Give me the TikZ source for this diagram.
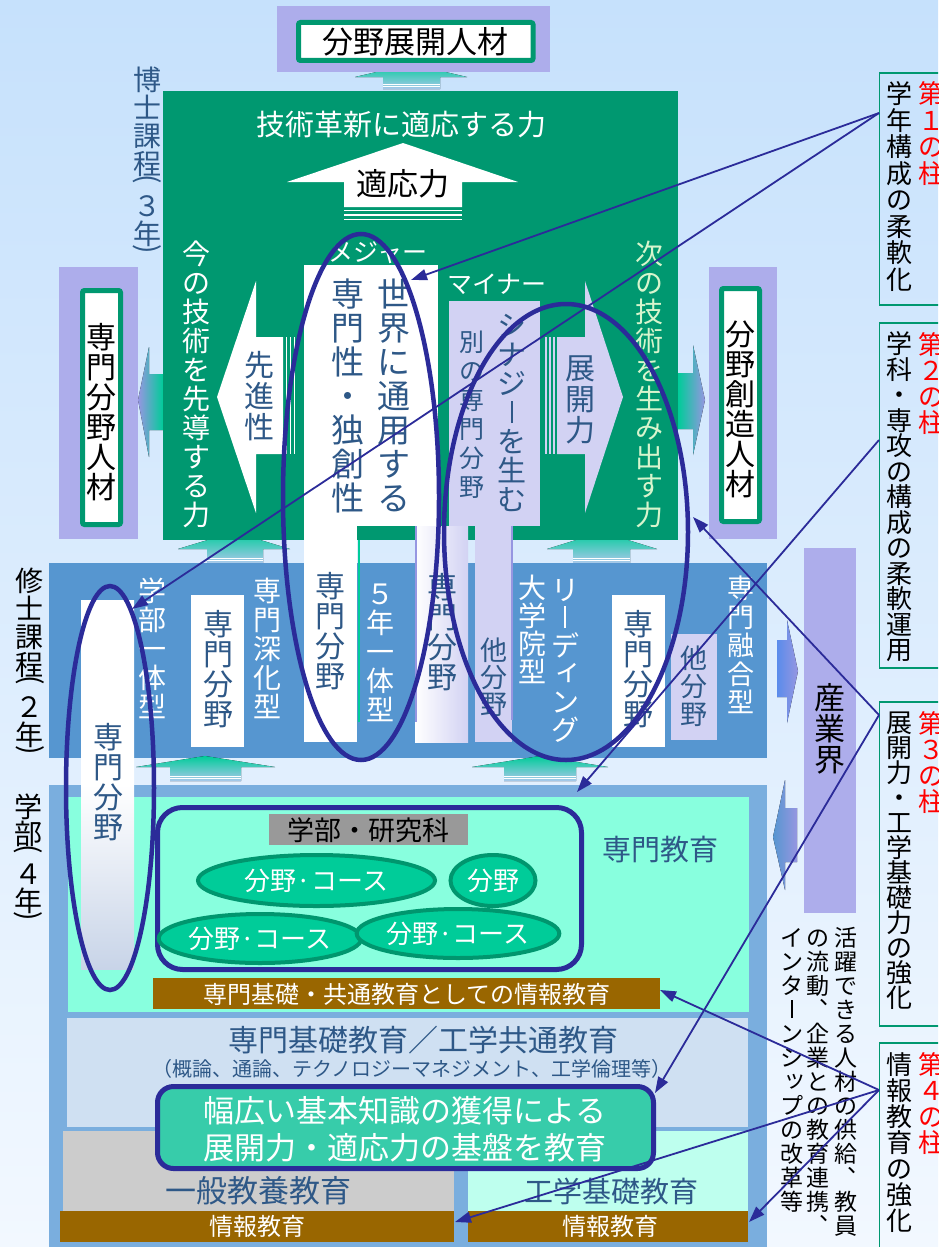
\documentclass[tikz,border=0pt]{standalone}
\usepackage{fontspec}
\setmainfont{Noto Sans CJK JP}
\usetikzlibrary{arrows.meta,shapes.geometric}

\definecolor{bgtop}{RGB}{198,225,252}
\definecolor{bgbot}{RGB}{242,248,255}
\definecolor{grn}{RGB}{0,152,112}
\definecolor{lav}{RGB}{173,173,235}
\definecolor{lavL}{RGB}{210,210,243}
\definecolor{lavD}{RGB}{150,150,225}
\definecolor{tealA}{RGB}{0,204,153}
\definecolor{tealB}{RGB}{170,200,235}
\definecolor{band}{RGB}{86,150,208}
\definecolor{frame}{RGB}{122,174,222}
\definecolor{aqua}{RGB}{136,255,222}
\definecolor{lbox}{RGB}{207,224,242}
\definecolor{gry}{RGB}{204,204,204}
\definecolor{gry2}{RGB}{153,153,153}
\definecolor{laqua}{RGB}{190,255,238}
\definecolor{brn}{RGB}{153,102,0}
\definecolor{teal2}{RGB}{55,204,170}
\definecolor{ellF}{RGB}{0,204,153}
\definecolor{ellB}{RGB}{0,150,110}
\definecolor{navy}{RGB}{43,43,153}
\definecolor{tblue}{RGB}{46,88,135}
\definecolor{pgrn}{RGB}{215,245,205}
\definecolor{ared}{RGB}{255,0,0}
\definecolor{gblue}{RGB}{90,140,235}
\definecolor{colbot}{RGB}{200,212,232}

\newcommand\fs[1]{\fontsize{#1}{#1}\selectfont}
% vertical text machinery
\newdimen\vtp
\newbox\vtbox
\def\vtstop{}
\def\vtstopm{\vtstop}
\def\vtfac{1}
\def\vtloop#1{\def\vtarg{#1}\ifx\vtarg\vtstopm\else\vtcell{#1}\expandafter\vtloop\fi}
\newcommand\vtcell[1]{\gdef\vtfac{1}\setbox\vtbox\hbox{#1}\ht\vtbox=0pt\dp\vtbox=0pt\hbox to 1em{\hss\vrule width0pt height\vtfac\vtp depth0pt\box\vtbox\hss}}
\newcommand\vtext[2]{\vbox{\vtp=#1pt\relax\offinterlineskip\vtloop#2\vtstop}}
\newcommand\VPL{\gdef\vtfac{0.5}\rotatebox[origin=c]{-90}{(}}
\newcommand\VPR{\gdef\vtfac{0.5}\rotatebox[origin=c]{-90}{)}}
\newcommand\VL{\rule[0em]{0.065em}{0.78em}}
\newcommand\VS[1]{\makebox[1em][l]{\kern0.12em\raisebox{0.12em}{\makebox[0.85em][l]{#1}}}}
\newcommand\VC{\makebox[1em][l]{\kern0.55em\raisebox{0.58em}{\makebox[0.4em][l]{、}}}}

\begin{document}
\begin{tikzpicture}[x=1pt,y=-1pt,
  vt/.style={inner sep=0pt,anchor=north},
  ht/.style={inner sep=0pt},
  conn/.style={draw=navy,line width=1.8pt,-{Triangle[length=16pt,width=11pt]}},
  ring/.style={draw=navy,line width=4.5pt},
  ell/.style={ellipse,draw=ellB,line width=4pt,fill=ellF,inner sep=0pt,text=white,font=\fs{26}},
  pillar/.style={draw=grn,line width=1.5pt},
  upar/.style={top color=tealA,bottom color=tealB}]
\useasboundingbox (0,0) rectangle (938,1247);
\clip (0,0) rectangle (938,1247);
\fill[top color=bgtop,bottom color=bgbot] (0,0) rectangle (938,1247);

% ---- up arrows (drawn first, partly hidden)
\fill[upar] (355,77) -- (411,64) -- (467,77) -- (440,77) -- (440,89) -- (383,89) -- (383,77) -- cycle;
\fill[upar] (178,549) -- (234,532) -- (290,549) -- (263,549) -- (263,563) -- (207,563) -- (207,549) -- cycle;
\fill[upar] (547,549) -- (602,532) -- (657,549) -- (630,549) -- (630,563) -- (573,563) -- (573,549) -- cycle;
\foreach \a/\b/\y in {383/440/84,383/440/86.5,207/263/558,207/263/560.5,573/630/558,573/630/560.5}
  \draw[white,line width=0.8pt] (\a,\y) -- (\b,\y);

% side arrows
\fill[left color=lavD,right color=tealA] (138,400) -- (149,347) -- (149,374) -- (163,374) -- (163,430) -- (149,430) -- (149,457) -- cycle;
\fill[left color=tealA,right color=lavD] (678,373) -- (693,373) -- (693,345) -- (705,400) -- (693,455) -- (693,429) -- (678,429) -- cycle;
\fill[left color=gblue,right color=lavD] (777,640) -- (787,640) -- (787,620) -- (798,671) -- (787,723) -- (787,697) -- (777,697) -- cycle;
\fill[left color=band,right color=lavD] (773,837) -- (785,780) -- (785,808) -- (797,808) -- (797,862) -- (785,862) -- (785,890) -- cycle;

% ---- top box
\fill[lav] (277,6) rectangle (550,72);
\draw[grn,line width=5pt,fill=white,rounded corners=2pt] (298.5,22.5) rectangle (533,60.5);
\node[ht,font=\fs{31}] (tBox) at (415,42) {分野展開人材};

% ---- green doctoral block
\fill[grn] (163,91) rectangle (678,540);
\node[ht,text=white,font=\fs{29}] (tKakushin) at (401,125) {技術革新に適応する力};
\fill[white] (403,143) -- (518,182) -- (462,182) -- (462,207) -- (344,207) -- (344,182) -- (287,182) -- cycle;
\foreach \y in {210.5,215,219.5} \draw[white,line width=1.5pt] (344,\y) -- (462,\y);
\node[ht,font=\fs{31}] (tTekio) at (403,184) {適応力};

\fill[white] (217,397) -- (256,281) -- (256,337) -- (283,337) -- (283,454) -- (256,454) -- (256,513) -- cycle;
\foreach \x in {286.5,290.5,294.5} \draw[white,line width=1.5pt] (\x,337) -- (\x,454);
\fill[lavL] (623,397) -- (585,281) -- (585,337) -- (557,337) -- (557,454) -- (585,454) -- (585,513) -- cycle;
\foreach \x in {546,550,554} \draw[lavL,line width=1.5pt] (\x,337) -- (\x,454);

\node[vt,text=white,font=\fs{28}] (tIma) at (196,235) {\vtext{29}{今の技術を先導する力}};
\node[vt,text=tblue,font=\fs{30}] (tSenshin) at (259,345) {\vtext{31}{先進性}};
\node[vt,text=pgrn,font=\fs{28}] (tTsugi) at (649,235) {\vtext{29}{次の技術を生み出す力}};
\node[vt,text=tblue,font=\fs{30}] (tTenkai) at (580,348) {\vtext{31}{展開力}};

% ---- blue master band
\fill[band] (49,563) rectangle (767,758);
\fill[upar] (136,767) -- (205,756) -- (275,767) -- (241,767) -- (241,781) -- (170,781) -- (170,767) -- cycle;
\fill[upar] (472,767) -- (540,756) -- (608,767) -- (576,767) -- (576,781) -- (504,781) -- (504,767) -- cycle;
\foreach \a/\b/\y in {170/241/776,170/241/778.5,504/576/776,504/576/778.5}
  \draw[white,line width=0.8pt] (\a,\y) -- (\b,\y);

% major / minor columns
\fill[white] (304,265) rectangle (438,526);
\fill[white] (304,526) rectangle (357,742);
\draw[tealA,line width=2pt] (358.5,540) -- (358.5,722);
\fill[left color=white,right color=lavL] (415,526) rectangle (468,742);
\draw[lavD,line width=2pt] (416,526) -- (416,722);
\fill[lavL] (475,526) rectangle (512,742);
\draw[lavD,line width=2pt] (512,526) -- (512,720);
\fill[lavL] (449,301) rectangle (540,526);
\node[ht,text=white,font=\fs{25}] (tMajor) at (378,253) {メジャー};
\node[ht,text=white,font=\fs{25}] (tMinor) at (497,284) {マイナー};
\node[vt,text=tblue,font=\fs{33}] (tSenmonsei) at (348,272) {\vtext{34}{専門性・独創性}};
\node[vt,text=tblue,font=\fs{33}] (tSekai) at (394,272) {\vtext{34}{世界に通用する}};
\node[vt,text=tblue,font=\fs{25}] (tBetsu) at (472,322) {\vtext{29}{別の専門分野}};
\node[vt,text=tblue,font=\fs{29}] (tSynergy) at (512,307) {\vtext{29}{シナジ\VL を生む}};

% side purple boxes
\fill[lav] (59,267) rectangle (138,539);
\draw[grn,line width=5pt,fill=white,rounded corners=2pt] (82.5,290.5) rectangle (120.5,524.5);
\node[vt,font=\fs{30}] (tSenJin) at (101,318) {\vtext{30}{専門分野人材}};
\fill[lav] (709,267) rectangle (777,539);
\draw[grn,line width=5pt,fill=white,rounded corners=2pt] (721.5,288.5) rectangle (759.5,521.5);
\node[vt,font=\fs{30}] (tSoJin) at (740,315) {\vtext{30}{分野創造人材}};

% band boxes
\fill[white] (191,595) rectangle (244,747);
\fill[white] (612,595) rectangle (665,747);
\fill[lavL] (671,634) rectangle (717,740);

% 産業界
\fill[lav] (804,548) rectangle (856,913);
\node[vt,font=\fs{31}] (tSangyo) at (830,678) {\vtext{31}{産業界}};

% ---- undergraduate frame
\fill[frame] (49,785) rectangle (767,1247);
\fill[aqua] (68,797) rectangle (749,1012);
\fill[lbox] (67,1018) rectangle (748,1127);
\fill[gry] (63,1131) rectangle (454,1211);
\fill[laqua] (468,1131) rectangle (748,1211);
\fill[brn] (60,1211) rectangle (454,1242);
\fill[brn] (468,1211) rectangle (748,1242);
\fill[brn] (153,978) rectangle (660,1009);
\draw[navy,line width=5pt,rounded corners=25pt] (157.5,807.5) rectangle (581.5,969.5);
\fill[gry2] (269,814) rectangle (468,845);
\node[ht,font=\fs{27}] (tGakubu) at (368,830) {学部・研究科};
\node[ell,minimum width=237pt,minimum height=51pt] (e1) at (316.5,880.5) {分野·コース};
\node[ell,minimum width=85pt,minimum height=51pt] (e2) at (493,880.5) {分野};
\node[ell,minimum width=190pt,minimum height=49pt] (e3) at (260,938.5) {分野·コース};
\node[ell,minimum width=168pt,minimum height=49pt] (e4) at (458,933.5) {分野·コース};
\node[ht,text=tblue,font=\fs{29}] (tSenmonKyoiku) at (660,849) {専門教育};
\node[ht,text=white,font=\fs{24}] (tKiso) at (407,994) {専門基礎・共通教育としての情報教育};
\node[ht,text=tblue,font=\fs{30}] (tKisoKyoiku) at (423,1040) {専門基礎教育／工学共通教育};
\node[ht,text=tblue,font=\fs{20}] (tGairon) at (412,1069) {（概論、通論、テクノロジーマネジメント、工学倫理等）};
\node[ht,text=tblue,font=\fs{31}] (tIppan) at (258,1191) {一般教養教育};
\node[ht,text=tblue,font=\fs{29}] (tKogaku) at (611,1191) {工学基礎教育};
\node[ht,text=white,font=\fs{24}] (tJoho1) at (257,1226) {情報教育};
\node[ht,text=white,font=\fs{24}] (tJoho2) at (610,1226) {情報教育};
\draw[navy,line width=5pt,fill=teal2,rounded corners=16pt] (157.5,1086.5) rectangle (653.5,1168.5);
\node[ht,text=white,font=\fs{31}] (tHaba1) at (405,1111) {幅広い基本知識の獲得による};
\node[ht,text=white,font=\fs{31}] (tHaba2) at (405,1148) {展開力・適応力の基盤を教育};

% long column
\fill[top color=white,bottom color=colbot,middle color=white] (81,600) rectangle (134,969);

% band labels
\node[vt,text=white,font=\fs{28}] (tB1) at (152,572) {\vtext{29}{学部一体型}};
\node[vt,text=white,font=\fs{28}] (tB2) at (267,572) {\vtext{29}{専門深化型}};
\node[vt,text=white,font=\fs{28}] (tB3) at (380,575) {\vtext{29}{５年一体型}};
\node[vt,text=white,font=\fs{28}] (tB4) at (532,570) {\vtext{28}{大学院型}};
\node[vt,text=white,font=\fs{28}] (tB5) at (565,572) {\vtext{28}{リ\VL デ{\VS ィ}ング}};
\node[vt,text=white,font=\fs{27}] (tB6) at (741,570) {\vtext{28.5}{専門融合型}};
\node[vt,text=tblue,font=\fs{30}] (f1) at (108,718) {\vtext{30}{専門分野}};
\node[vt,text=tblue,font=\fs{30}] (f2) at (218,605) {\vtext{30}{専門分野}};
\node[vt,text=tblue,font=\fs{30}] (f3) at (330,567) {\vtext{30}{専門分野}};
\node[vt,text=tblue,font=\fs{30}] (f4) at (442,568) {\vtext{30}{専門分野}};
\node[vt,text=tblue,font=\fs{27}] (f5) at (494,633) {\vtext{27}{他分野}};
\node[vt,text=tblue,font=\fs{30}] (f6) at (638,605) {\vtext{30}{専門分野}};
\node[vt,text=tblue,font=\fs{27}] (f7) at (694,640) {\vtext{28}{他分野}};

% course labels left
\node[vt,text=tblue,font=\fs{28}] (tHakase) at (147,62) {\vtext{28}{博士課程\VPL ３年\VPR}};
\node[vt,font=\fs{28}] (tShushi) at (30,563) {\vtext{28}{修士課程\VPL ２年\VPR}};
\node[vt,font=\fs{28}] (tGakubuY) at (28,790) {\vtext{27}{学部\VPL ４年\VPR}};

% industry text
\node[vt,font=\fs{23}] (tCol1) at (846,922) {\vtext{24}{活躍できる人材の供給\VC 教員}};
\node[vt,font=\fs{23}] (tCol2) at (818,922) {\vtext{24}{の流動\VC 企業との教育連携\VC}};
\node[vt,font=\fs{23}] (tCol3) at (792,922) {\vtext{24}{インタ\VL ンシ{\VS ッ}プの改革等}};

% pillars
\draw[pillar] (879.5,73) rectangle (950,305);
\draw[pillar] (879.5,323) rectangle (950,668);
\draw[pillar] (879.5,702) rectangle (950,1026);
\draw[pillar] (879.5,1043) rectangle (950,1260);
\node[vt,font=\fs{26}] (p1) at (899,77) {\vtext{26.5}{学年構成の柔軟化}};
\node[vt,text=ared,font=\fs{26}] (r1) at (931,77) {\vtext{26.5}{第１の柱}};
\node[vt,font=\fs{26}] (p2) at (899,328) {\vtext{25.5}{学科・専攻の構成の柔軟運用}};
\node[vt,text=ared,font=\fs{26}] (r2) at (931,328) {\vtext{26}{第２の柱}};
\node[vt,font=\fs{26}] (p3) at (899,707) {\vtext{25}{展開力・工学基礎力の強化}};
\node[vt,text=ared,font=\fs{26}] (r3) at (931,707) {\vtext{26}{第３の柱}};
\node[vt,font=\fs{26}] (p4) at (899,1048) {\vtext{26}{情報教育の強化}};
\node[vt,text=ared,font=\fs{26}] (r4) at (931,1048) {\vtext{26}{第４の柱}};

% ---- rings
\draw[ring] (361,497) ellipse [x radius=78, y radius=263];
\draw[ring] (566,532) ellipse [x radius=122, y radius=228];
\draw[ring] (110,788) ellipse [x radius=44, y radius=202];

% ---- connectors
\coordinate (s1) at (879,113);
\coordinate (s2) at (879,440);
\coordinate (s3) at (879,715);
\coordinate (s4) at (879,1090);
\coordinate (e1a) at (411,280);
\coordinate (e1b) at (132,609);
\coordinate (e2) at (577,792);
\coordinate (e3a) at (693,517);
\coordinate (e3b) at (655,1093);
\coordinate (e4a) at (660,990);
\coordinate (e4b) at (455,1222);
\coordinate (e4c) at (749,1222);
\draw[conn] (s1) -- (e1a);
\draw[conn] (s1) -- (e1b);
\draw[conn] (s2) -- (e2);
\draw[conn] (s3) -- (e3a);
\draw[conn] (s3) -- (e3b);
\draw[conn] (s4) -- (e4a);
\draw[conn] (s4) -- (e4b);
\draw[conn] (s4) -- (e4c);
\end{tikzpicture}
\end{document}
